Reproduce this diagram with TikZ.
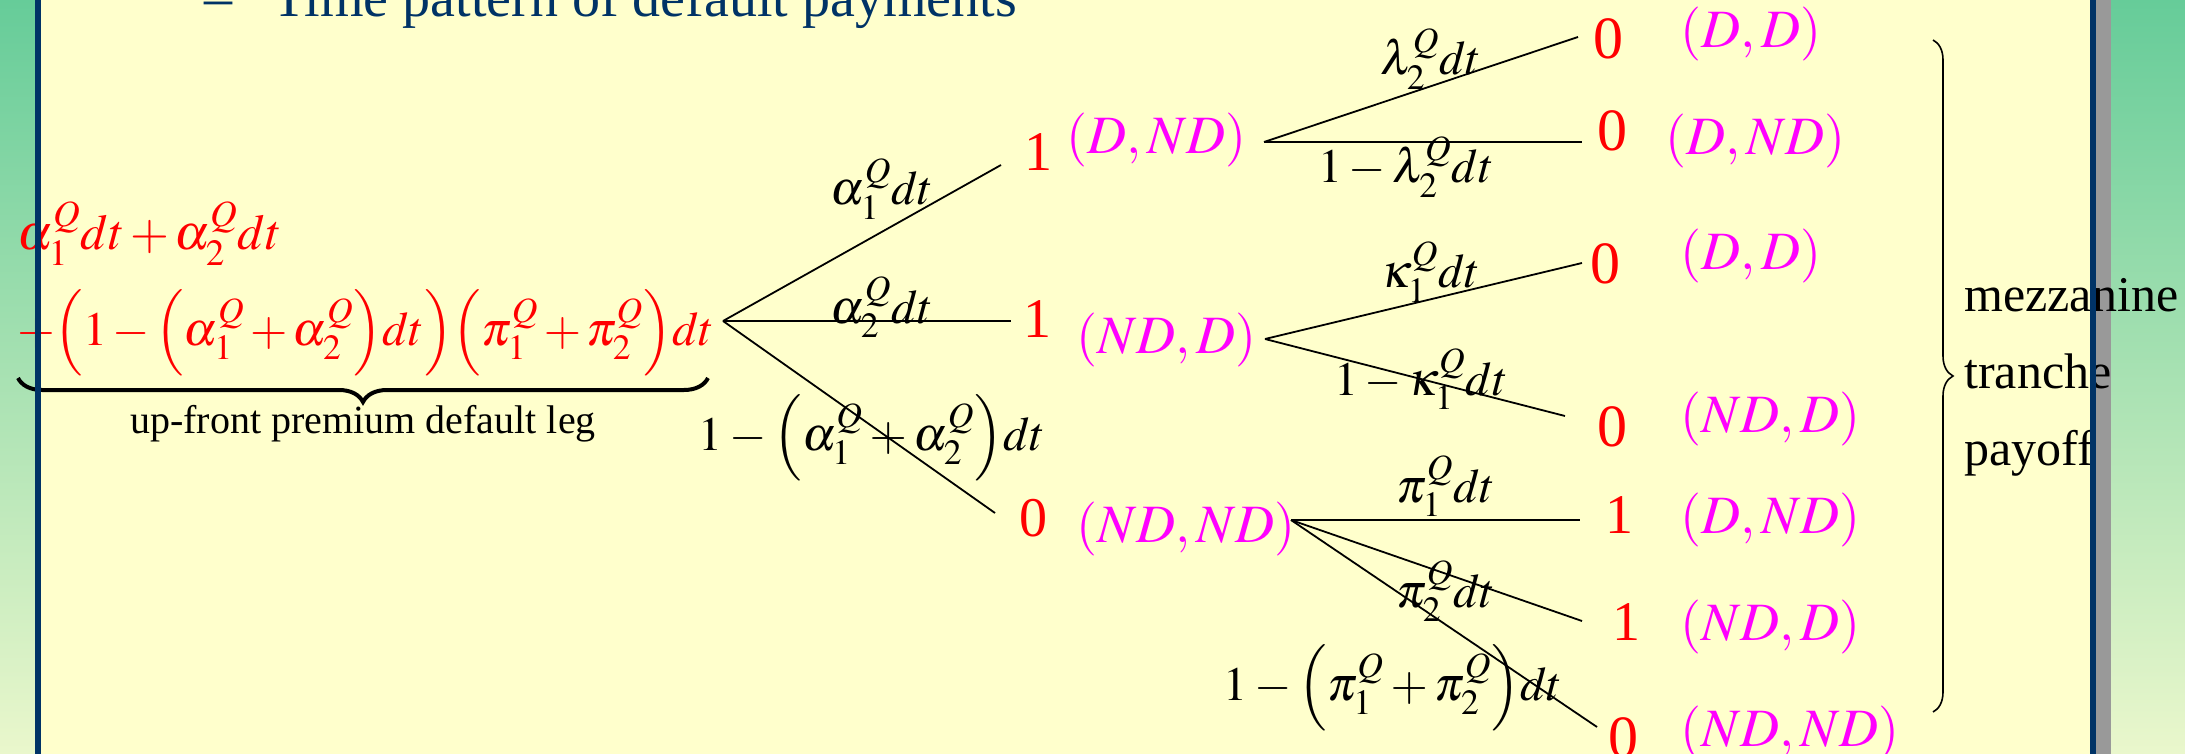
\documentclass[tikz,border=0pt]{standalone}
\usepackage{amsmath}
\usepackage{mathptmx}
\usepackage[no-math]{fontspec}
\setmainfont{Liberation Serif}
\usetikzlibrary{decorations.pathreplacing}
\definecolor{slidebg}{RGB}{255,255,204}
\definecolor{slideblue}{RGB}{0,51,102}
\definecolor{stripgray}{RGB}{153,153,153}
\definecolor{greentop}{RGB}{102,204,153}
\definecolor{greenbot}{RGB}{234,247,204}
\definecolor{paycol}{RGB}{255,0,0}
\definecolor{statecol}{RGB}{255,0,255}
\tikzstyle{branch}=[line width=0.9pt]
\tikzstyle{heading}=[anchor=base west, inner sep=0pt, text=slideblue, font=\fontsize{28}{34}\selectfont]
\tikzstyle{lead}=[anchor=base west, inner sep=0pt, text=paycol, font=\fontsize{25}{30}\selectfont]
\tikzstyle{branchlab}=[anchor=base, inner sep=0pt, font=\fontsize{24}{29}\selectfont]
\tikzstyle{payoff}=[anchor=base west, inner sep=0pt, text=paycol, font=\fontsize{28}{34}\selectfont]
\tikzstyle{bigpay}=[payoff, font=\fontsize{30}{36}\selectfont]
\tikzstyle{statelab}=[anchor=base west, inner sep=0pt, text=statecol, font=\fontsize{27}{32}\selectfont]
\tikzstyle{side}=[anchor=base west, inner sep=0pt, font=\fontsize{25}{30}\selectfont]
\newcommand{\intens}[2]{#1_{#2}^{Q}}
\newcommand{\tight}{\medmuskip=2mu\relax}

\begin{document}
\begin{tikzpicture}[x=0.5pt, y=-0.5pt]
  \useasboundingbox (0,0) rectangle (2185,754);
  % slide background
  \fill[slidebg] (0,0) rectangle (2185,754);
  \shade[top color=greentop, bottom color=greenbot] (0,0) rectangle (35,754);
  \shade[top color=greentop, bottom color=greenbot] (2111,0) rectangle (2185,754);
  \fill[stripgray] (2096,0) rectangle (2111,754);
  % heading
  \node[heading] (dash) at (204,17) {--};
  \node[heading] (title) at (272,17) {Time pattern of default payments};
  % up-front premium, default leg
  \node[lead] (lead1) at (17,250) {$\tight\intens{\alpha}{1}dt+\intens{\alpha}{2}dt$};
  \node[lead, font=\fontsize{24}{29}\selectfont] (lead2) at (17,345) {$\tight+\Bigl(1-\Bigl(\intens{\alpha}{1}+\intens{\alpha}{2}\Bigr)dt\Bigr)\Bigl(\intens{\pi}{1}+\intens{\pi}{2}\Bigr)dt$};
  \draw[line width=2pt, decorate, decoration={brace, mirror, amplitude=12pt}] (18,378) -- (708,378);
  \node[anchor=base, inner sep=0pt, font=\fontsize{20}{24}\selectfont] (legtxt) at (363,433) {up-front premium default leg};
  % first step
  \coordinate (root) at (723,321);
  \coordinate (e1) at (1001,165);
  \coordinate (e2) at (1011,321);
  \coordinate (e3) at (995,513);
  \draw[branch] (root) -- (e1);
  \draw[branch] (root) -- (e2);
  \draw[branch] (root) -- (e3);
  \node[branchlab] (pa1) at (882,205) {$\intens{\alpha}{1}dt$};
  \node[branchlab] (pa2) at (882,323) {$\intens{\alpha}{2}dt$};
  \node[branchlab] (pa3) at (872,450) {$1-\Bigl(\intens{\alpha}{1}+\intens{\alpha}{2}\Bigr)dt$};
  \node[payoff] (v1) at (1024,171) {1};
  \node[payoff] (v2) at (1023,337) {1};
  \node[payoff] (v3) at (1019,536) {0};
  \node[statelab] (s1) at (1066,154) {$(D,ND)$};
  \node[statelab] (s2) at (1076,353) {$(ND,D)$};
  \node[statelab] (s3) at (1076,542) {$(ND,ND)$};
  % second step
  \coordinate (n1) at (1264,142);
  \coordinate (n1a) at (1578,37);
  \coordinate (n1b) at (1582,142);
  \coordinate (n2) at (1265,339);
  \coordinate (n2a) at (1582,263);
  \coordinate (n2b) at (1565,416);
  \coordinate (n3) at (1291,520);
  \coordinate (n3a) at (1580,520);
  \coordinate (n3b) at (1582,621);
  \coordinate (n3c) at (1597,727);
  \draw[branch] (n1) -- (n1a);
  \draw[branch] (n1) -- (n1b);
  \draw[branch] (n2) -- (n2a);
  \draw[branch] (n2) -- (n2b);
  \draw[branch] (n3) -- (n3a);
  \draw[branch] (n3) -- (n3b);
  \draw[branch] (n3) -- (n3c);
  \node[branchlab] (pl1) at (1431,75) {$\intens{\lambda}{2}dt$};
  \node[branchlab] (pl2) at (1406,183) {$1-\intens{\lambda}{2}dt$};
  \node[branchlab] (pk1) at (1431,288) {$\intens{\kappa}{1}dt$};
  \node[branchlab] (pk2) at (1421,395) {$1-\intens{\kappa}{1}dt$};
  \node[branchlab] (pp1) at (1446,502) {$\intens{\pi}{1}dt$};
  \node[branchlab] (pp2) at (1446,607) {$\intens{\pi}{2}dt$};
  \node[branchlab] (pp3) at (1393,700) {$1-\Bigl(\intens{\pi}{1}+\intens{\pi}{2}\Bigr)dt$};
  % outcomes
  \node[bigpay] (t1) at (1593,59) {0};
  \node[bigpay] (t2) at (1597,151) {0};
  \node[bigpay] (t3) at (1590,284) {0};
  \node[bigpay] (t4) at (1597,446) {0};
  \node[payoff] (t5) at (1605,533) {1};
  \node[payoff] (t6) at (1612,640) {1};
  \node[bigpay] (t7) at (1608,757) {0};
  \node[statelab] (ts1) at (1680,48) {$(D,D)$};
  \node[statelab] (ts2) at (1665,155) {$(D,ND)$};
  \node[statelab] (ts3) at (1680,270) {$(D,D)$};
  \node[statelab] (ts4) at (1680,432) {$(ND,D)$};
  \node[statelab] (ts5) at (1680,533) {$(D,ND)$};
  \node[statelab] (ts6) at (1680,640) {$(ND,D)$};
  \node[statelab] (ts7) at (1680,746) {$(ND,ND)$};
  % tranche payoff
  \draw[line width=0.8pt, decorate, decoration={brace, amplitude=10pt}] (1933,40) -- (1933,712);
  \node[side] (mz1) at (1964,312) {mezzanine};
  \node[side] (mz2) at (1964,388) {tranche};
  \node[side] (mz3) at (1964,465) {payoff};
  % frame lines
  \fill[slideblue] (35,0) rectangle (41,754);
  \fill[slideblue] (2090,0) rectangle (2096,754);
\end{tikzpicture}
\end{document}
